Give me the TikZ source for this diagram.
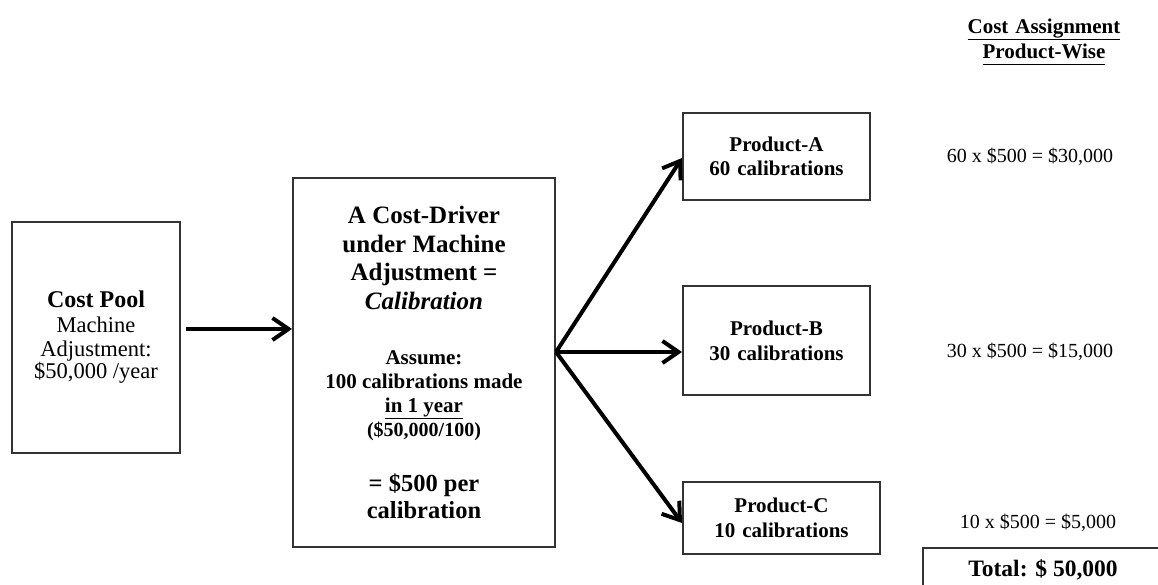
\documentclass[tikz,border=0pt]{standalone}
\usepackage{fontspec}
\setmainfont{Liberation Serif}
\usetikzlibrary{arrows.meta,positioning}
\tikzset{>={Straight Barb[length=16pt,width=22pt]}}
\tikzset{box/.style={draw=black!80, line width=2pt, align=center, inner sep=0pt}}
\tikzset{flow/.style={->, line width=4pt}}
\tikzset{amount/.style={font=\fontsize{20}{24}\selectfont}}
% size switch that also resets the word space to the new size
\newcommand{\fs}[2]{\fontsize{#1}{#2}\selectfont\spaceskip=\fontdimen2\font\relax}

\begin{document}
\begin{tikzpicture}[x=1pt,y=-1pt]
  \useasboundingbox (0,0) rectangle (1158,585);

  % pool and driver
  \node[box, minimum width=168, minimum height=231, text width=160pt] (pool) at (96,337.5) {%
    \bfseries\fs{24}{24}Cost Pool\par
    \mdseries\fs{22.5}{24.5}Machine\\ Adjustment:\\ \$50,000 /year};
  \node[box, minimum width=262, minimum height=369, text width=254pt] (driver) at (424,362.5) {%
    \bfseries\fs{25}{28.5}A Cost-Driver\\ under Machine\\ Adjustment =\\ \textit{Calibration}\par
    \vspace{31pt}
    \fs{21}{24}Assume:\\ 100 calibrations made\\ \underline{in 1 year}\\ {\fs{20}{24}(\$50,000/100)}\par
    \vspace{28pt}
    \fs{24.5}{27}= \$500 per\\ calibration\par};

  % products
  \node[box, minimum width=187, minimum height=87, text width=180pt, font=\bfseries\fs{21}{24}] (prodA) at (776.5,156.5) {Product-A\\ 60 calibrations};
  \node[box, minimum width=187, minimum height=109, text width=180pt, font=\bfseries\fs{21}{25}] (prodB) at (776.5,340.5) {Product-B\\ 30 calibrations};
  \node[box, minimum width=197, minimum height=72, text width=190pt, font=\bfseries\fs{21}{25}] (prodC) at (781.5,518) {Product-C\\ 10 calibrations};

  % assignment column
  \node[align=center, text width=200pt, font=\bfseries\fs{21}{25}] (head) at (1044,42) {\underline{Cost Assignment}\\ \underline{Product-Wise\vphantom{g}}};
  \node[amount] (costA) at (1030,157) {60 x \$500 = \$30,000};
  \node[amount] (costB) at (1030,352) {30 x \$500 = \$15,000};
  \node[amount] (costC) at (1038,523) {10 x \$500 = \$5,000};
  \node[box, anchor=north west, minimum width=240, minimum height=44, font=\bfseries\fs{23.5}{26}] (total) at (922,547) {Total: \$ 50,000};

  % arrows
  \coordinate (poolout) at (186,329);
  \coordinate (fork) at ([yshift=10.5pt]driver.east);
  \draw[flow] (poolout) -- (poolout -| driver.west);
  \draw[flow] (fork) -- ([yshift=-1.5pt]prodA.west);
  \draw[flow] (fork) -- (fork -| prodB.west);
  \draw[flow] (fork) -- ([yshift=-5pt]prodC.west);
\end{tikzpicture}
\end{document}
